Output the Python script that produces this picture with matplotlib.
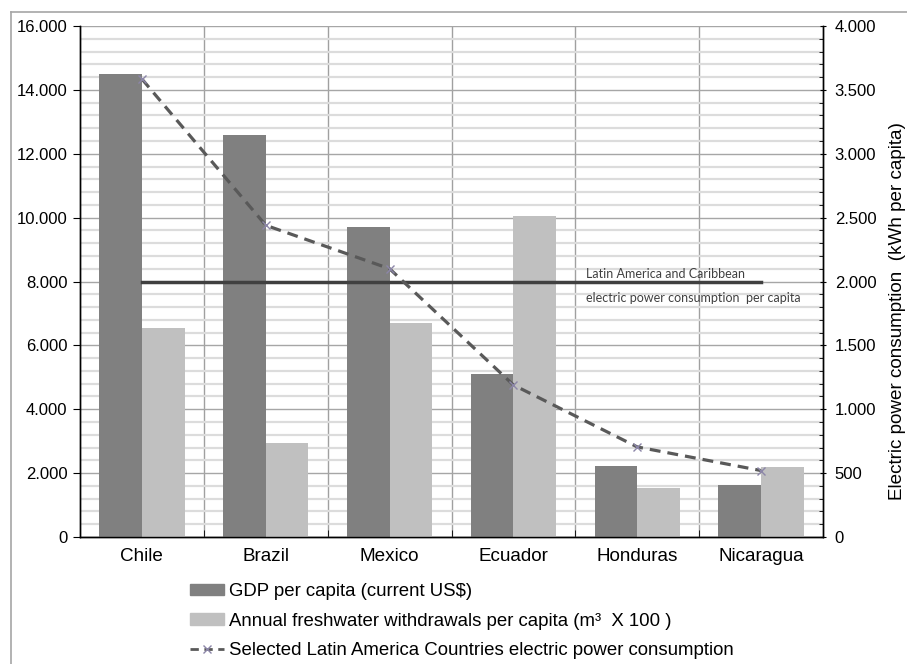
import matplotlib
matplotlib.use("Agg")
import matplotlib.pyplot as plt
from matplotlib.ticker import FuncFormatter, MultipleLocator, FixedLocator
from matplotlib.patches import Rectangle
from matplotlib.lines import Line2D
import numpy as np

countries = ["Chile", "Brazil", "Mexico", "Ecuador", "Honduras", "Nicaragua"]
gdp = [14500, 12580, 9700, 5090, 2230, 1630]
freshwater = [6530, 2950, 6700, 10050, 1540, 2190]
electric = [3585, 2440, 2100, 1190, 705, 520]
lac_electric = [2000, 2000, 2000, 2000, 2000, 2000]

gdp_label = "GDP per capita (current US$)"
water_label = "Annual freshwater withdrawals per capita (m\u00b3  X 100 )"
elec_label = "Selected Latin America Countries electric power consumption"
right_label = "Electric power consumption  (kWh per capita)"
annot1 = "Latin America and Caribbean"
annot2 = "electric power consumption  per capita"

plt.rcParams['font.family'] = ['Liberation Sans', 'DejaVu Sans']

W, H = 907, 664
fig = plt.figure(figsize=(W / 100, H / 100), dpi=100)
fig.patch.set_facecolor("white")

# outer border (left and top visible)
fig.add_artist(Line2D([10.5 / W, 10.5 / W], [0, 1 - 11.5 / H], transform=fig.transFigure,
                      color="#a6a6a6", lw=1.2))
fig.add_artist(Line2D([10.5 / W, 1], [1 - 11.5 / H, 1 - 11.5 / H], transform=fig.transFigure,
                      color="#a6a6a6", lw=1.2))

L, R, T, B = 80, 823, 26, 537
ax = fig.add_axes([L / W, 1 - B / H, (R - L) / W, (B - T) / H])
ax2 = ax.twinx()

x = np.arange(len(countries))
bw = 0.345
ax.bar(x - bw / 2, gdp, width=bw, color="#808080", zorder=3, label=gdp_label)
ax.bar(x + bw / 2, freshwater, width=bw, color="#c0c0c0", zorder=3, label=water_label)

ax.set_xlim(-0.5, len(countries) - 0.5)
ax.set_ylim(0, 16000)
ax2.set_ylim(0, 4000)

thousands = FuncFormatter(lambda v, p: f"{int(round(v)):,}".replace(",", "."))
ax.yaxis.set_major_locator(MultipleLocator(2000))
ax.yaxis.set_minor_locator(MultipleLocator(400))
ax.yaxis.set_major_formatter(thousands)
ax2.yaxis.set_major_locator(MultipleLocator(500))
ax2.yaxis.set_minor_locator(MultipleLocator(100))
ax2.yaxis.set_major_formatter(thousands)

# grid
ax.set_axisbelow(True)
ax.grid(which="major", axis="y", color="#a6a6a6", lw=1.0, zorder=0)
ax.grid(which="minor", axis="y", color="#dcdcdc", lw=1.6, zorder=0)
ax.set_xticks(x)
ax.set_xticklabels(countries, fontsize=13.6)
ax.xaxis.set_minor_locator(FixedLocator(np.arange(0.5, len(countries) - 0.5, 1)))
ax.grid(which="minor", axis="x", color="#a0a0a0", lw=1.0, zorder=0)
ax.tick_params(axis="x", which="major", length=0, pad=8)
ax.tick_params(axis="x", which="minor", length=5, direction="in", color="black")

ax.tick_params(axis="y", which="major", length=5, direction="out", labelsize=12, pad=4)
ax.tick_params(axis="y", which="minor", length=0)
ax2.tick_params(axis="y", which="major", length=5, direction="inout", labelsize=12, pad=6)
ax2.tick_params(axis="y", which="minor", length=3, direction="in")

for s in ["top"]:
    ax.spines[s].set_visible(False)
    ax2.spines[s].set_visible(False)
for a in (ax, ax2):
    for s in ["left", "right", "bottom"]:
        a.spines[s].set_color("black")
        a.spines[s].set_linewidth(1.0)

# lines on right axis
ax2.plot(x, lac_electric, color="#404040", lw=2.5, zorder=4)
ax2.plot(x, electric, color="#595959", lw=2.3, ls=(0, (3.4, 2.2)), marker="x",
         markersize=6, markeredgecolor="#8c86a8", markeredgewidth=1.0, zorder=5,
         label=elec_label)

fig.text(586 / W, 1 - 274 / H, annot1, fontsize=9, color="#404040", family=["Lato", "DejaVu Sans"],
         ha="left", va="center")
fig.text(586 / W, 1 - 298 / H, annot2, fontsize=9, color="#404040", family=["Lato", "DejaVu Sans"],
         ha="left", va="center")

fig.text(897 / W, 1 - 311 / H, right_label, rotation=90, fontsize=13.6, ha="center", va="center")

# legend
h1 = Rectangle((0, 0), 1, 1, color="#808080")
h2 = Rectangle((0, 0), 1, 1, color="#c0c0c0")
h3 = Line2D([], [], color="#595959", lw=2.0, ls=(0, (3, 2)), marker="x", markersize=6,
            markeredgecolor="#8c86a8")
leg = fig.legend([h1, h2, h3], [gdp_label, water_label, elec_label],
                 loc="upper left", bbox_to_anchor=(190 / W, 1 - 583 / H),
                 frameon=False, fontsize=13.4, handlelength=1.85, handleheight=0.55,
                 handletextpad=0.25, labelspacing=0.68, borderaxespad=0, borderpad=0)

fig.savefig("out.png", dpi=100, facecolor="white")
